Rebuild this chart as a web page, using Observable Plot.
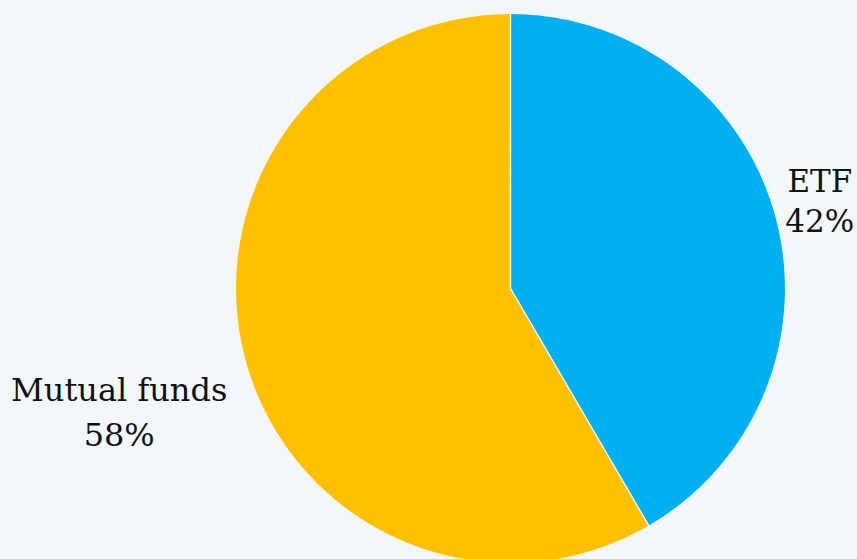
<!DOCTYPE html>
<html>
<head>
<meta charset="utf-8">
<script src="https://cdn.jsdelivr.net/npm/d3@7"></script>
<script src="https://cdn.jsdelivr.net/npm/@observablehq/plot@0.6"></script>
<style>
  html, body { margin: 0; padding: 0; background: #f2f7fb; }
  #chart svg { display: block; }
</style>
</head>
<body>
<div id="chart"></div>
<script>
const categories = ["ETF", "Mutual funds"];
const shares = [41.6, 58.4];
const colors = ["#00b0f0", "#ffc000"];

const W = 857, H = 559;
const cx = 510, cy = 288, R = 275;

const pie = d3.pie().sort(null).value(d => d.value)(
  categories.map((name, i) => ({ name, value: shares[i] }))
);

// polygon outline points for each slice (unit-radius coordinates)
const pts = [];
pie.forEach(s => {
  const n = Math.max(2, Math.ceil((s.endAngle - s.startAngle) / (Math.PI / 360)));
  pts.push({ name: s.data.name, x: 0, y: 0 });
  for (let k = 0; k <= n; k++) {
    const a = s.startAngle + (s.endAngle - s.startAngle) * k / n;
    pts.push({ name: s.data.name, x: Math.sin(a), y: Math.cos(a) });
  }
  pts.push({ name: s.data.name, x: 0, y: 0 });
});

const labels = pie.map(s => {
  const a = (s.startAngle + s.endAngle) / 2;
  return { name: s.data.name, text: s.data.name + "\n" + Math.round(s.data.value) + "%", x: 1.15 * Math.sin(a), y: 1.15 * Math.cos(a) };
});

const font = "DejaVu Serif";
const chart = Plot.plot({
  width: W, height: H,
  margin: 0,
  style: { background: "#f2f7fb", fontFamily: font },
  x: { domain: [-cx / R, (W - cx) / R], range: [0, W], axis: null },
  y: { domain: [cy / R, -(H - cy) / R], range: [0, H], axis: null },
  color: { domain: categories, range: colors },
  marks: [
    Plot.line(pts, { x: "x", y: "y", z: "name", fill: "name", stroke: "#f2f7fb", strokeWidth: 1.2, strokeLinejoin: "round" }),
    Plot.text(labels.filter(d => d.name === "ETF"), { x: "x", y: "y", text: "text", dx: 4, dy: -7, fontSize: 31, lineHeight: 1.3, fill: "#111" }),
    Plot.text(labels.filter(d => d.name === "Mutual funds"), { x: "x", y: "y", text: "text", dx: -86, dy: 38, fontSize: 32, lineHeight: 1.4, fill: "#111" })
  ]
});
document.getElementById("chart").appendChild(chart);
</script>
</body>
</html>
